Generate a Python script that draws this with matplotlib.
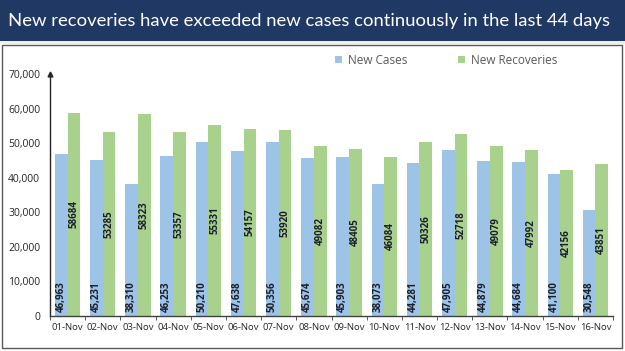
import matplotlib
matplotlib.use("Agg")
import matplotlib.pyplot as plt
import numpy as np
from matplotlib.patches import Rectangle

dates = ["01-Nov", "02-Nov", "03-Nov", "04-Nov", "05-Nov", "06-Nov", "07-Nov", "08-Nov",
         "09-Nov", "10-Nov", "11-Nov", "12-Nov", "13-Nov", "14-Nov", "15-Nov", "16-Nov"]
new_cases = [46963, 45231, 38310, 46253, 50210, 47638, 50356, 45674,
             45903, 38073, 44281, 47905, 44879, 44684, 41100, 30548]
new_recoveries = [58684, 53285, 58323, 53357, 55331, 54157, 53920, 49082,
                  48405, 46084, 50326, 52718, 49079, 47992, 42156, 43851]
title = "New recoveries have exceeded new cases continuously in the last 44 days"

plt.rcParams['font.family'] = ['Open Sans', 'DejaVu Sans']

W, H = 625, 351
fig = plt.figure(figsize=(W / 100, H / 100), dpi=100)
fig.patch.set_facecolor("white")

# header band
fig.patches.append(Rectangle((0, 1 - 41 / H), 1, 41 / H, transform=fig.transFigure,
                             facecolor="#1f3864", edgecolor="none", zorder=0))
fig.patches.append(Rectangle((0, 1 - 44 / H), 1, 3 / H, transform=fig.transFigure,
                             facecolor="#f2f0e6", edgecolor="none", zorder=0))
# outer frame
fig.patches.append(Rectangle((2 / W, 3 / H), (W - 5) / W, (H - 48) / H, transform=fig.transFigure,
                             facecolor="none", edgecolor="#595959", linewidth=1.0, zorder=0))
fig.text(8 / W, 1 - 21 / H, title, color="white", fontsize=13.3, va="center", ha="left",
         family=['Lato', 'DejaVu Sans'])

ax = fig.add_axes([50 / W, (H - 316) / H, (613 - 50) / W, (316 - 74) / H])
x = np.arange(len(dates))
w = 0.36
b1 = ax.bar(x - w / 2, new_cases, width=w, color="#9dc3e6", label="New Cases", zorder=2)
b2 = ax.bar(x + w / 2, new_recoveries, width=w, color="#a9d18e", label="New Recoveries", zorder=2)

for xi, v in zip(x, new_cases):
    ax.text(xi - w / 2, 1200, f"{v:,}", rotation=90, ha="center", va="bottom",
            fontsize=7, fontweight="bold", color="#1a1f2e")
for xi, v in zip(x, new_recoveries):
    ax.text(xi + w / 2, v / 2, f"{v}", rotation=90, ha="center", va="center",
            fontsize=7, fontweight="bold", color="#1a1f2e")

ax.set_xlim(-0.5, len(dates) - 0.5)
ax.set_ylim(0, 70000)
ax.set_yticks(np.arange(0, 70001, 10000))
ax.set_yticklabels([f"{t:,}" for t in range(0, 70001, 10000)], fontsize=7.5, color="#262626")
ax.tick_params(axis="y", length=0, pad=7)
ax.set_xticks(x)
ax.set_xticklabels(dates, fontsize=6.8, color="#262626")
ax.tick_params(axis="x", length=0, pad=5)
ax.set_xticks(np.arange(-0.5, len(dates) + 0.5, 1), minor=True)
ax.tick_params(axis="x", which="minor", length=3, direction="out", color="#404040")

for s in ["top", "right"]:
    ax.spines[s].set_visible(False)
ax.spines["left"].set_color("#262626")
ax.spines["bottom"].set_color("#404040")
ax.spines["left"].set_linewidth(1.0)
ax.spines["bottom"].set_linewidth(1.0)
ax.plot([-0.5], [70000], marker="^", color="#262626", markersize=3.5, clip_on=False, zorder=3)

ax.legend(loc="upper left", bbox_to_anchor=(324 / W, 1 - 43 / H), bbox_transform=fig.transFigure,
          ncol=2, frameon=False, fontsize=8.5, handlelength=0.6, handleheight=0.6,
          columnspacing=4.3, handletextpad=0.5, labelcolor="#595959")

fig.savefig("out.png", dpi=100)
